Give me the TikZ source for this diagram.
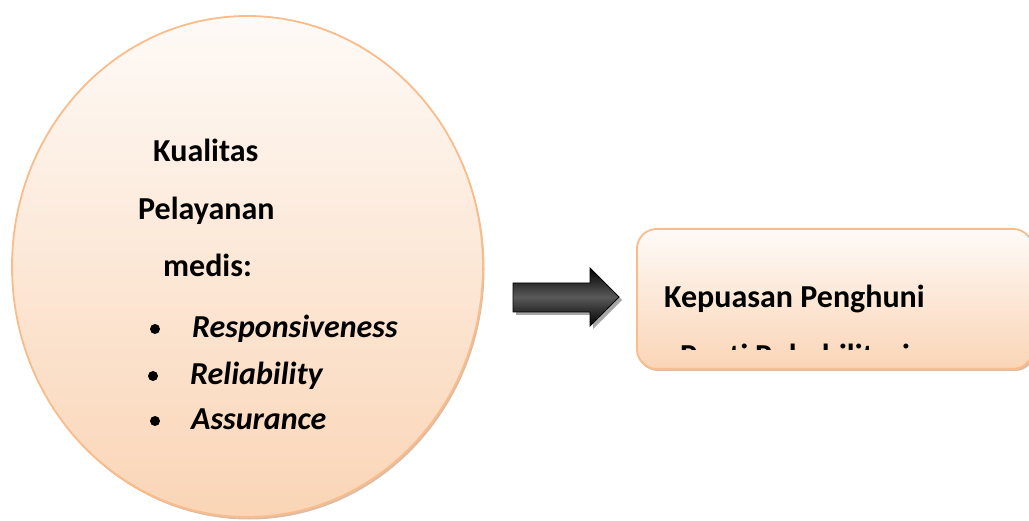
\documentclass[tikz,border=0pt]{standalone}
\usepackage{fontspec}
\setmainfont{Carlito}
\usetikzlibrary{shapes.geometric}
\definecolor{peachtop}{RGB}{254,250,247}
\definecolor{peachbot}{RGB}{250,213,182}
\definecolor{peachline}{RGB}{249,188,138}
\definecolor{peachshadow}{RGB}{205,160,125}
\tikzset{
  lbl/.style={anchor=base west, inner sep=0pt, font=\fontsize{32}{32}\selectfont\bfseries},
  itm/.style={anchor=base west, inner sep=0pt, font=\fontsize{32}{32}\selectfont\bfseries\itshape},
  bul/.style={circle, fill=black, inner sep=0pt, minimum size=10pt},
  peach/.style={draw=peachline, line width=1.8pt, top color=peachtop, bottom color=peachbot},
  shadowfill/.style={fill=peachshadow, opacity=0.7},
}
\begin{document}
\begin{tikzpicture}[x=1pt,y=-1pt]
\useasboundingbox (0,0) rectangle (1029,521);
% ellipse
\fill[shadowfill] (249,269) ellipse [x radius=235.5, y radius=250.5];
\node[ellipse, peach, minimum width=471pt, minimum height=501pt, inner sep=0pt] (ell) at (247.5,266.5) {};
\node[lbl] (t1) at (153,162) {Kualitas};
\node[lbl] (t2) at (138,220) {Pelayanan};
\node[lbl] (t3) at (163,277) {medis:};
\node[bul] (b1) at (155,329) {};
\node[bul] (b2) at (153,376) {};
\node[bul] (b3) at (155,421) {};
\node[itm] (i1) at (192,338) {Responsiveness};
\node[itm] (i2) at (190,385) {Reliability};
\node[itm] (i3) at (191,430) {Assurance};
% arrow
\fill[gray!70] (516,286) -- (593,286) -- (593,271) -- (622,300) -- (593,329) -- (593,315) -- (516,315) -- cycle;
\shade[top color=black, bottom color=black, middle color=gray!70!black, draw=black, line width=0.8pt]
  (513,283) -- (590,283) -- (590,268) -- (619,297) -- (590,326) -- (590,312) -- (513,312) -- cycle;
% rectangle
\fill[shadowfill, rounded corners=20pt] (638,231) rectangle (1035,371);
\node[rectangle, rounded corners=20pt, peach, minimum width=396pt, minimum height=140pt, inner sep=0pt, anchor=north west] (box) at (636,228) {};
\node[lbl] (k1) at (664,308) {Kepuasan Penghuni};
\begin{scope}
\clip (640,230) rectangle (1029,350);
\node[lbl] (k2) at (680,367) {Panti Rehabilitasi};
\end{scope}
\end{tikzpicture}
\end{document}
